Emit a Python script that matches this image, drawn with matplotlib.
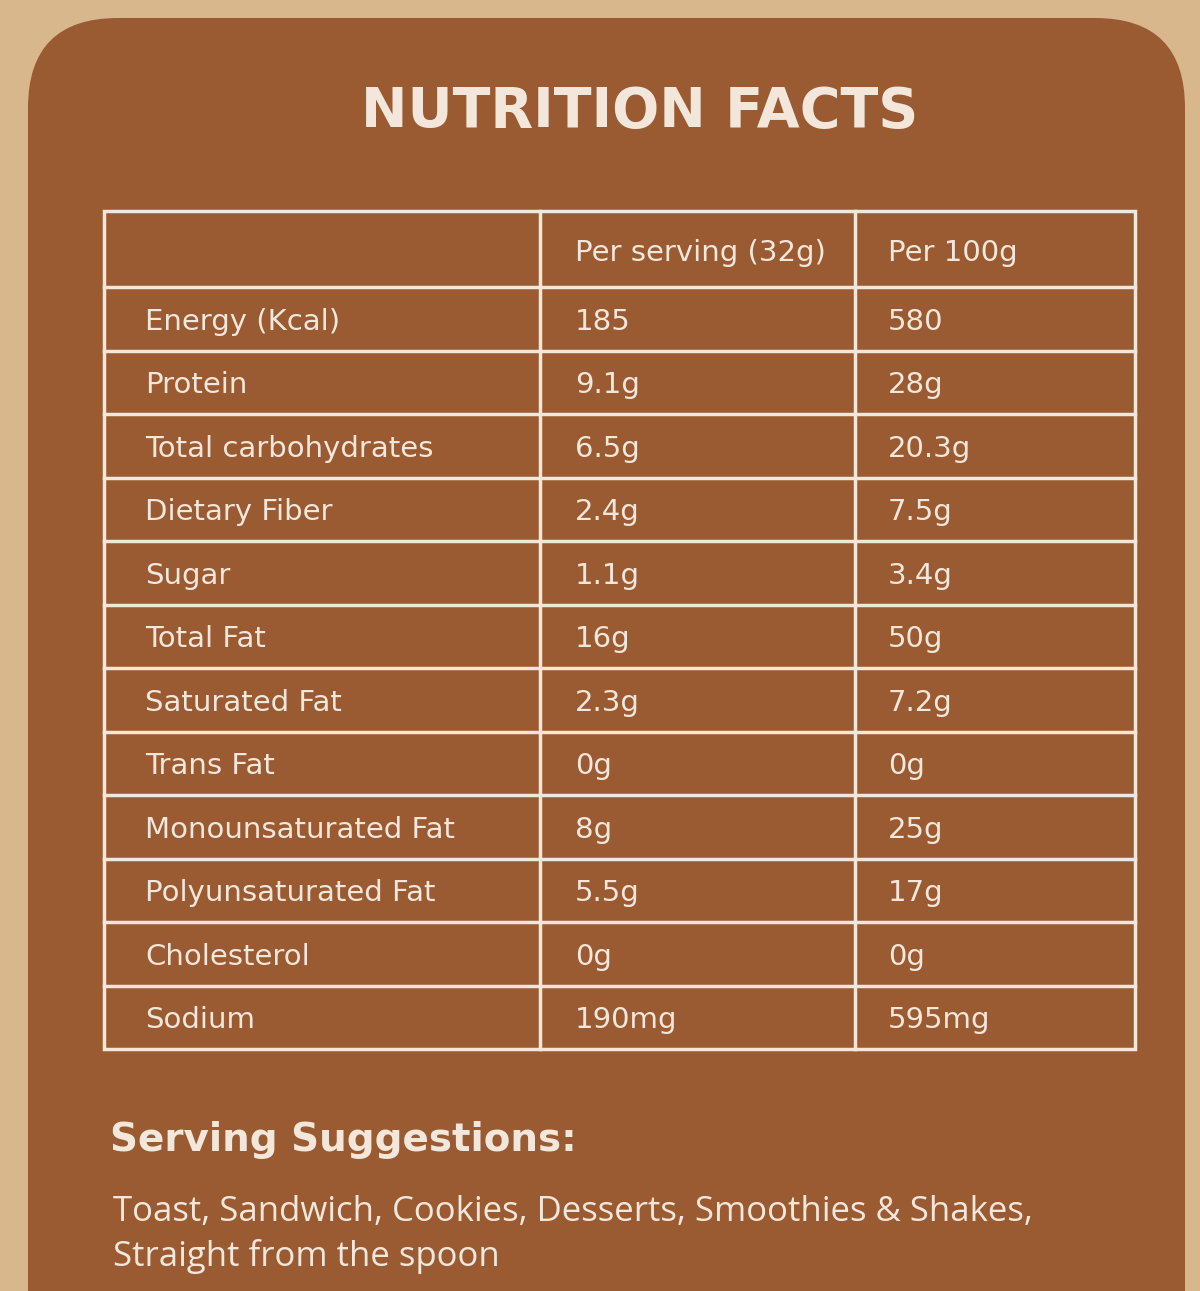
import matplotlib
matplotlib.use("Agg")
import matplotlib.pyplot as plt
from matplotlib.patches import FancyBboxPatch, Rectangle

title = "NUTRITION FACTS"
headers = ["", "Per serving (32g)", "Per 100g"]
nutrients = ["Energy (Kcal)", "Protein", "Total carbohydrates", "Dietary Fiber", "Sugar",
             "Total Fat", "Saturated Fat", "Trans Fat", "Monounsaturated Fat",
             "Polyunsaturated Fat", "Cholesterol", "Sodium"]
per_serving = ["185", "9.1g", "6.5g", "2.4g", "1.1g", "16g", "2.3g", "0g", "8g", "5.5g", "0g", "190mg"]
per_100g = ["580", "28g", "20.3g", "7.5g", "3.4g", "50g", "7.2g", "0g", "25g", "17g", "0g", "595mg"]
sugg_title = "Serving Suggestions:"
sugg_lines = ["Toast, Sandwich, Cookies, Desserts, Smoothies & Shakes,", "Straight from the spoon"]

W, H = 1200, 1291
fig = plt.figure(figsize=(12, 12.91), dpi=100)
fig.patch.set_facecolor("#d8b78c")
ax = fig.add_axes([0, 0, 1, 1])
ax.set_xlim(0, W); ax.set_ylim(H, 0); ax.axis("off")

brown = "#9a5a32"; light = "#f3e7dc"
ax.add_patch(FancyBboxPatch((28, 18), 1157, 1400, boxstyle="round,pad=0,rounding_size=90",
                            fc=brown, ec="none"))
ax.text(640, 112, title, ha="center", va="center", color=light, fontsize=40,
        fontweight="bold", family="DejaVu Sans")

x0, x1, x2, x3 = 104, 540, 855, 1135
y_top, y_head = 211, 287
row_h = (1049 - y_head) / len(nutrients)
y_bot = y_head + row_h * len(nutrients)
lw = 2.5
ax.add_patch(Rectangle((x0, y_top), x3 - x0, y_bot - y_top, fill=False, ec=light, lw=lw))
for x in (x1, x2):
    ax.plot([x, x], [y_top, y_bot], color=light, lw=lw)
ys = [y_head + i * row_h for i in range(len(nutrients))]
for y in ys:
    ax.plot([x0, x3], [y, y], color=light, lw=lw)

tfont = dict(family="DejaVu Sans", fontsize=21, color=light, va="center")
cols = [145, 575, 888]
for c, h in zip(cols, headers):
    ax.text(c, (y_top + y_head) / 2 + 4, h, **tfont)
for i, (n, a, b) in enumerate(zip(nutrients, per_serving, per_100g)):
    yc = y_head + (i + 0.5) * row_h + 3
    for c, t in zip(cols, (n, a, b)):
        ax.text(c, yc, t, **tfont)

ax.text(110, 1140, sugg_title, color=light, fontsize=28, fontweight="bold",
        family="DejaVu Sans", va="center")
for k, line in enumerate(sugg_lines):
    ax.text(113, 1212 + k * 44, line, color=light, fontsize=25, family="Open Sans", va="center")

fig.savefig("out.png", dpi=100, facecolor=fig.get_facecolor())
